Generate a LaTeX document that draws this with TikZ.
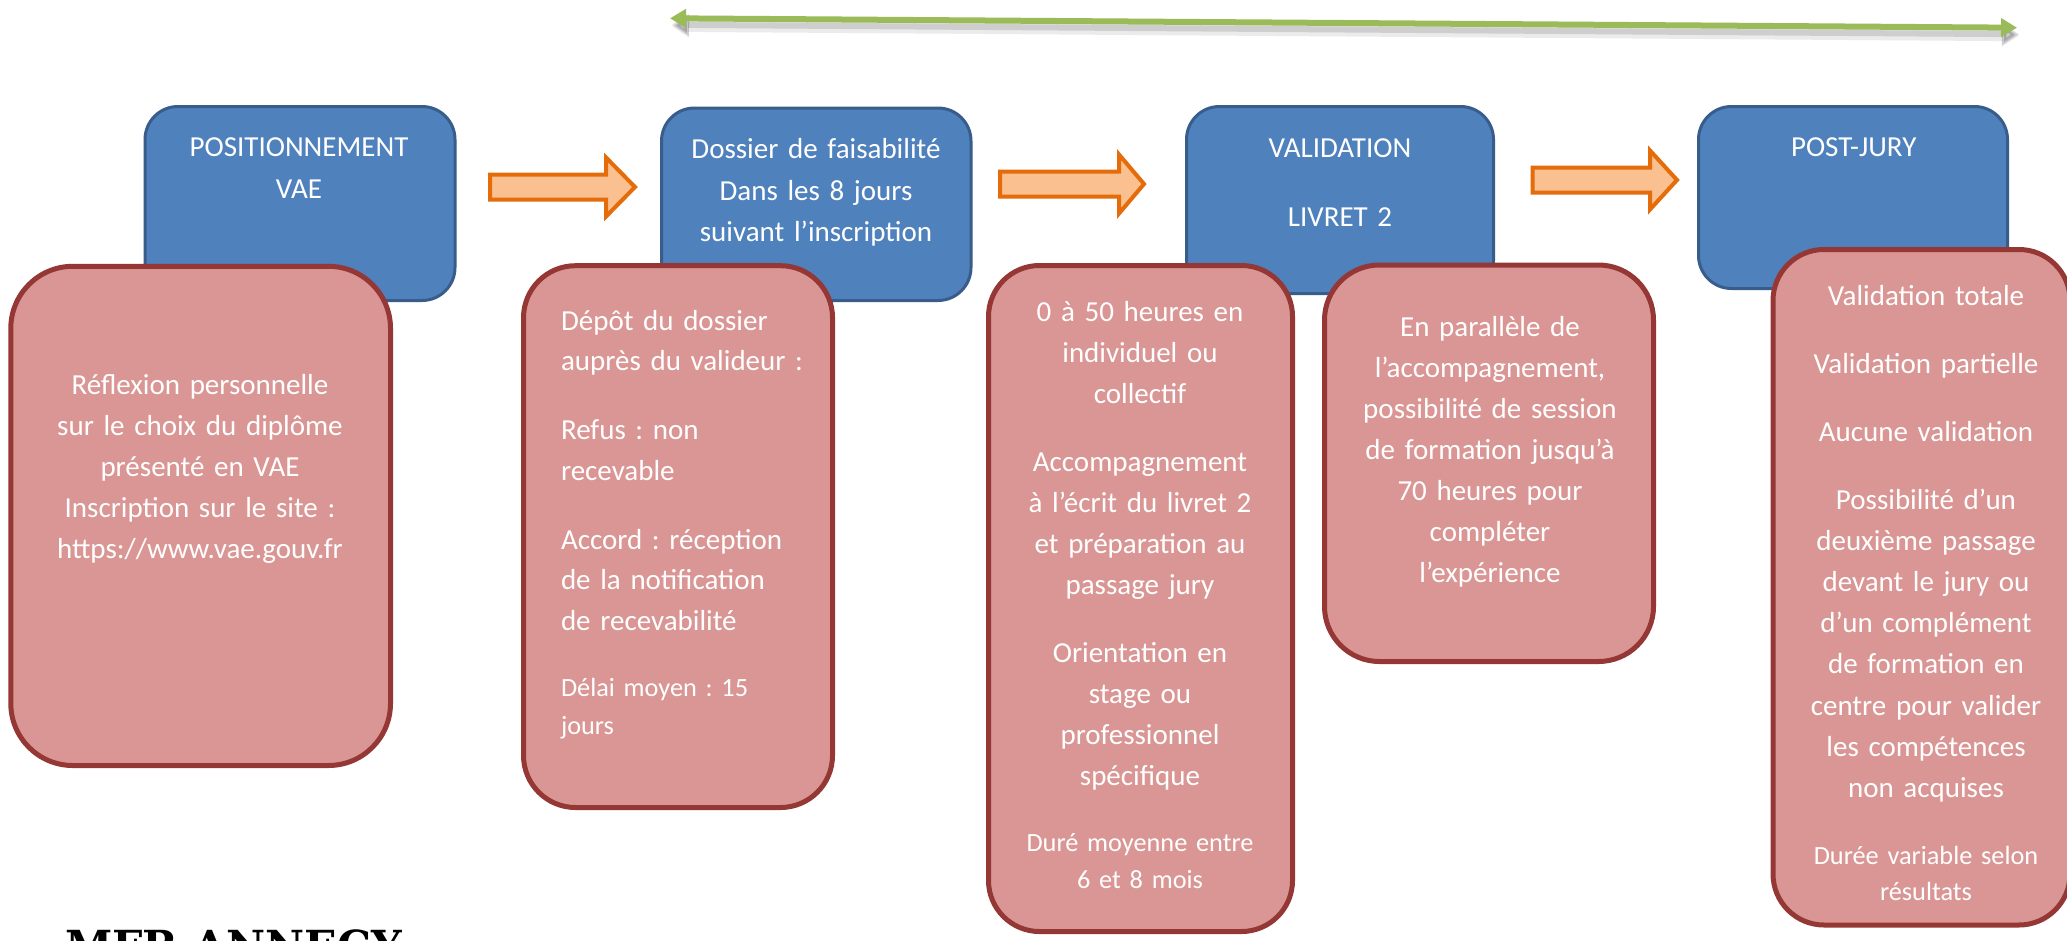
\documentclass[tikz,border=0pt]{standalone}
\usepackage{fontspec}
\setmainfont{Carlito}
\newfontfamily\mfrfont{DejaVu Serif}
\usetikzlibrary{arrows.meta}
\frenchspacing
\definecolor{bluefill}{HTML}{4F81BD}
\definecolor{blueline}{HTML}{385D8A}
\definecolor{pinkfill}{HTML}{D99694}
\definecolor{pinkline}{HTML}{953735}
\definecolor{orfill}{HTML}{FAC090}
\definecolor{orline}{HTML}{E46C0A}
\definecolor{greenline}{HTML}{9BBB59}
\tikzset{
  bluebox/.style={rectangle, draw=blueline, fill=bluefill, line width=3pt, rounded corners=33pt, inner sep=0pt, outer sep=0pt},
  pinkbox/.style={rectangle, draw=pinkline, fill=pinkfill, line width=5pt, inner sep=0pt, outer sep=0pt},
  orangearrow/.style={draw=orline, fill=orfill, line width=4pt, line join=miter},
  greenarrow/.style={draw=greenline, line width=6pt, {Triangle[length=16pt,width=18pt]}-{Triangle[length=16pt,width=18pt]}},
  shadowarrow/.style={draw=black, line width=9pt, {Triangle[length=17pt,width=21pt]}-{Triangle[length=17pt,width=21pt]}},
  txt/.style={text=white, inner sep=0pt, outer sep=0pt, anchor=base, align=center, text width=420pt, font=\fontsize{29}{41}\selectfont},
  smalltxt/.style={txt, font=\fontsize{26.3}{37}\selectfont},
}
\newcommand\barrow[5]{%
  \draw[orangearrow] (#2,#5-12.5) -- (#3,#5-12.5) -- (#3,#5-29.5) -- (#4,#5) -- (#3,#5+29.5) -- (#3,#5+12.5) -- (#2,#5+12.5) -- cycle;
  \coordinate (#1) at (#4,#5);}
\begin{document}
\begin{tikzpicture}[x=1pt,y=-1pt]
\fill[white] (0,0) rectangle (2067,940);
\useasboundingbox (0,0) rectangle (2067,940);

% green double arrow with soft shadow
\coordinate (gl) at (670,18.3);
\coordinate (gr) at (2017,27.7);
\coordinate (gls) at (672,26.3);
\coordinate (grs) at (2019,35.7);
\coordinate (gls2) at (672,24.8);
\coordinate (grs2) at (2019,34.2);
\draw[shadowarrow, opacity=0.08, line width=11pt] (gls) -- (grs);
\draw[shadowarrow, opacity=0.12, line width=6pt] (gls2) -- (grs2);
\draw[greenarrow] (gl) -- (gr);

% blue step boxes
\node[bluebox, minimum width=310pt, minimum height=194pt] (pos) at (300,203.5) {};
\node[bluebox, minimum width=309.5pt, minimum height=192.5pt] (dos) at (816.25,204.25) {};
\node[bluebox, minimum width=307pt, minimum height=187pt] (val) at (1340,200) {};
\node[bluebox, minimum width=309pt, minimum height=182pt] (post) at (1853,197.5) {};

\node[txt, font=\fontsize{29}{42}\selectfont] (postxt) at (299,156) {POSITIONNEMENT\\VAE};
\node[txt, font=\fontsize{29}{41.5}\selectfont] (dostxt) at (816,158.5) {Dossier de faisabilité\\Dans les 8 jours\\suivant l’inscription};
\node[txt, font=\fontsize{29}{42}\selectfont] (valtxt) at (1340,157.7) {VALIDATION\\[26.3pt]LIVRET 2};
\node[txt] (posttxt) at (1853.7,156) {POST-JURY};

% orange block arrows
\barrow{a1}{490}{606}{635}{187}
\barrow{a2}{1000}{1119}{1144}{184}
\barrow{a3}{1532.5}{1650}{1677}{180}

% pink detail boxes
\node[pinkbox, rounded corners=62pt, minimum width=379.7pt, minimum height=499.2pt] (refl) at (200.65,515.9) {};
\node[pinkbox, rounded corners=52pt, minimum width=309pt, minimum height=541.8pt] (depot) at (678,536.6) {};
\node[pinkbox, rounded corners=51pt, minimum width=304pt, minimum height=666pt] (heures) at (1140.5,598.5) {};
\node[pinkbox, rounded corners=55pt, minimum width=329pt, minimum height=396.5pt] (para) at (1489,463.25) {};
\node[pinkbox, rounded corners=51pt, minimum width=297pt, minimum height=675.5pt] (jury) at (1921.5,587.25) {};

% texts of the pink boxes
\node[txt] (refltxt) at (200,394) {Réflexion personnelle\\sur le choix du diplôme\\présenté en VAE\\Inscription sur le site :\\https://www.vae.gouv.fr};

\node[txt, align=left, text width=262pt, anchor=base west, font=\fontsize{29}{40.5}\selectfont] (dep1) at (561,330) {Dépôt du dossier\\auprès du valideur :};
\node[txt, align=left, text width=262pt, anchor=base west, font=\fontsize{29}{40.5}\selectfont] (dep2) at (561,439.5) {Refus : non\\recevable};
\node[txt, align=left, text width=262pt, anchor=base west, font=\fontsize{29}{40.5}\selectfont] (dep3) at (561,549) {Accord : réception\\de la notification\\de recevabilité};
\node[smalltxt, align=left, text width=262pt, anchor=base west, font=\fontsize{26.3}{38}\selectfont] (dep4) at (561,696) {Délai moyen : 15\\jours};

\node[txt, font=\fontsize{29}{40.8}\selectfont] (h1) at (1140,321.5) {0 à 50 heures en\\individuel ou\\collectif};
\node[txt, font=\fontsize{29}{41.3}\selectfont] (h2) at (1140,471) {Accompagnement\\à l’écrit du livret 2\\et préparation au\\passage jury};
\node[txt] (h3) at (1140,662.7) {Orientation en\\stage ou\\professionnel\\spécifique};
\node[smalltxt, font=\fontsize{26.3}{37.4}\selectfont] (h4) at (1140,851) {Duré moyenne entre\\6 et 8 mois};

\node[txt] (paratxt) at (1490,336) {En parallèle de\\l’accompagnement,\\possibilité de session\\de formation jusqu’à\\70 heures pour\\compléter\\l’expérience};

\node[txt] (j1) at (1926,305.7) {Validation totale};
\node[txt] (j2) at (1926,373.6) {Validation partielle};
\node[txt] (j3) at (1926,441.5) {Aucune validation};
\node[txt, font=\fontsize{29}{41.1}\selectfont] (j4) at (1926,509.5) {Possibilité d’un\\deuxième passage\\devant le jury ou\\d’un complément\\de formation en\\centre pour valider\\les compétences\\non acquises};
\node[smalltxt, font=\fontsize{26.3}{36}\selectfont] (j5) at (1926,864) {Durée variable selon\\résultats};

% footer (cut by the lower edge, as in the reference)
\node[anchor=base west, inner sep=0pt, font=\mfrfont\bfseries\fontsize{42.8}{48}\selectfont] (mfr) at (65,961.5) {MFR ANNECY};
\end{tikzpicture}
\end{document}
